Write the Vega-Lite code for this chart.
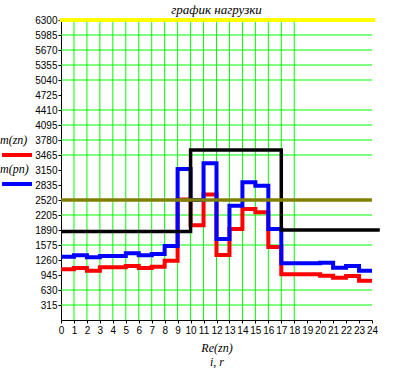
{
  "$schema": "https://vega.github.io/schema/vega-lite/v6.json",
  "autosize": {"type": "none"},
  "width": 311,
  "height": 300,
  "padding": {"left": 61, "top": 20, "right": 34, "bottom": 48},
  "background": "white",
  "title": {"text": "график нагрузки", "font": "Liberation Serif", "fontStyle": "italic", "fontSize": 13, "fontWeight": "normal", "anchor": "middle", "frame": "group", "baseline": "top", "offset": 0, "dy": 2, "color": "black"},
  "config": {
    "view": {"stroke": null},
    "axis": {"grid": false, "tickSize": 3, "labelFont": "Liberation Sans", "labelFontSize": 10, "labelColor": "black", "labelOverlap": false, "labelFlush": false, "domainColor": "black", "tickColor": "black", "domainWidth": 1, "tickWidth": 1, "format": "d"},
    "axisX": {"labelAngle": 0, "labelPadding": 2, "titleFont": "Liberation Serif", "titleFontStyle": "italic", "titleFontSize": 12, "titleFontWeight": "normal", "titleColor": "black", "titlePadding": 7, "titleLineHeight": 14},
    "axisY": {"labelPadding": 1}
  },
  "datasets": {
    "vgrid": [{"x": 1}, {"x": 2}, {"x": 3}, {"x": 4}, {"x": 5}, {"x": 6}, {"x": 7}, {"x": 8}, {"x": 9}, {"x": 10}, {"x": 11}, {"x": 12}, {"x": 13}, {"x": 14}, {"x": 15}, {"x": 16}, {"x": 17}, {"x": 18}],
    "hgrid": [{"y": 315}, {"y": 630}, {"y": 1575}, {"y": 2205}, {"y": 3465}, {"y": 3780}, {"y": 4095}, {"y": 4410}, {"y": 5040}, {"y": 5355}, {"y": 5670}, {"y": 5985}],
    "series": [
      {"s": "m(zn)", "x": 0, "y": 1064}, {"s": "m(zn)", "x": 1, "y": 1092}, {"s": "m(zn)", "x": 2, "y": 1036}, {"s": "m(zn)", "x": 3, "y": 1106}, {"s": "m(zn)", "x": 4, "y": 1106}, {"s": "m(zn)", "x": 5, "y": 1134}, {"s": "m(zn)", "x": 6, "y": 1092}, {"s": "m(zn)", "x": 7, "y": 1120}, {"s": "m(zn)", "x": 8, "y": 1246}, {"s": "m(zn)", "x": 9, "y": 2530}, {"s": "m(zn)", "x": 10, "y": 1990}, {"s": "m(zn)", "x": 11, "y": 2636}, {"s": "m(zn)", "x": 12, "y": 1365}, {"s": "m(zn)", "x": 13, "y": 1911}, {"s": "m(zn)", "x": 14, "y": 2331}, {"s": "m(zn)", "x": 15, "y": 2261}, {"s": "m(zn)", "x": 16, "y": 1535}, {"s": "m(zn)", "x": 17, "y": 959}, {"s": "m(zn)", "x": 18, "y": 959}, {"s": "m(zn)", "x": 19, "y": 959}, {"s": "m(zn)", "x": 20, "y": 931}, {"s": "m(zn)", "x": 21, "y": 889}, {"s": "m(zn)", "x": 22, "y": 924}, {"s": "m(zn)", "x": 23, "y": 826}, {"s": "m(zn)", "x": 24, "y": 826},
      {"s": "m(pn)", "x": 0, "y": 1330}, {"s": "m(pn)", "x": 1, "y": 1358}, {"s": "m(pn)", "x": 2, "y": 1316}, {"s": "m(pn)", "x": 3, "y": 1344}, {"s": "m(pn)", "x": 4, "y": 1344}, {"s": "m(pn)", "x": 5, "y": 1400}, {"s": "m(pn)", "x": 6, "y": 1358}, {"s": "m(pn)", "x": 7, "y": 1386}, {"s": "m(pn)", "x": 8, "y": 1554}, {"s": "m(pn)", "x": 9, "y": 3171}, {"s": "m(pn)", "x": 10, "y": 2520}, {"s": "m(pn)", "x": 11, "y": 3290}, {"s": "m(pn)", "x": 12, "y": 1701}, {"s": "m(pn)", "x": 13, "y": 2401}, {"s": "m(pn)", "x": 14, "y": 2895}, {"s": "m(pn)", "x": 15, "y": 2821}, {"s": "m(pn)", "x": 16, "y": 1911}, {"s": "m(pn)", "x": 17, "y": 1190}, {"s": "m(pn)", "x": 18, "y": 1190}, {"s": "m(pn)", "x": 19, "y": 1190}, {"s": "m(pn)", "x": 20, "y": 1200}, {"s": "m(pn)", "x": 21, "y": 1099}, {"s": "m(pn)", "x": 22, "y": 1134}, {"s": "m(pn)", "x": 23, "y": 1036}, {"s": "m(pn)", "x": 24, "y": 1036}
    ],
    "black": [{"x": 0, "y": 1860}, {"x": 10, "y": 3570}, {"x": 17, "y": 1890}, {"x": 24.6, "y": 1890}],
    "olive": [{"x": 0, "x2": 24, "y": 2520}],
    "yellow": [{"x": -0.1, "x2": 24.25, "y": 6300}]
  },
  "layer": [
    {
      "data": {"name": "vgrid"},
      "mark": {"type": "rule", "color": "#00ff00", "strokeWidth": 1},
      "encoding": {"x": {"field": "x", "type": "quantitative", "scale": {"domain": [0, 24]}, "axis": {"values": [0,1,2,3,4,5,6,7,8,9,10,11,12,13,14,15,16,17,18,19,20,21,22,23,24], "title": ["Re(zn)", "i, r"]}}}
    },
    {
      "data": {"name": "hgrid"},
      "mark": {"type": "rule", "color": "#00ff00", "strokeWidth": 1},
      "encoding": {"y": {"field": "y", "type": "quantitative", "scale": {"domain": [0, 6300]}, "axis": {"values": [315,630,945,1260,1575,1890,2205,2520,2835,3150,3465,3780,4095,4410,4725,5040,5355,5670,5985,6300], "title": null}}}
    },
    {
      "data": {"name": "series"},
      "transform": [{"filter": "datum.s === 'm(zn)'"}],
      "mark": {"type": "line", "interpolate": "step-after", "strokeWidth": 4},
      "encoding": {
        "x": {"field": "x", "type": "quantitative", "scale": {"domain": [0, 24]}, "axis": {"values": [0,1,2,3,4,5,6,7,8,9,10,11,12,13,14,15,16,17,18,19,20,21,22,23,24], "title": ["Re(zn)", "i, r"]}},
        "y": {"field": "y", "type": "quantitative", "scale": {"domain": [0, 6300]}, "axis": {"values": [315,630,945,1260,1575,1890,2205,2520,2835,3150,3465,3780,4095,4410,4725,5040,5355,5670,5985,6300], "title": null}},
        "color": {"field": "s", "type": "nominal", "scale": {"domain": ["m(zn)", "m(pn)"], "range": ["#ff0000", "#0000ff"]},
          "legend": {"orient": "none", "legendX": -61, "legendY": 118, "title": null, "symbolType": "stroke", "symbolSize": 900, "symbolStrokeWidth": 4, "labelOffset": -34, "labelFont": "Liberation Serif", "labelFontStyle": "italic", "labelFontSize": 12, "labelColor": "black", "padding": 0, "rowPadding": 0, "encode": {"labels": {"update": {"dy": {"value": -15}}}}}}
      }
    },
    {
      "data": {"name": "series"},
      "transform": [{"filter": "datum.s === 'm(pn)'"}],
      "mark": {"type": "line", "interpolate": "step-after", "strokeWidth": 4},
      "encoding": {
        "x": {"field": "x", "type": "quantitative", "scale": {"domain": [0, 24]}, "axis": {"values": [0,1,2,3,4,5,6,7,8,9,10,11,12,13,14,15,16,17,18,19,20,21,22,23,24], "title": ["Re(zn)", "i, r"]}},
        "y": {"field": "y", "type": "quantitative", "scale": {"domain": [0, 6300]}, "axis": {"values": [315,630,945,1260,1575,1890,2205,2520,2835,3150,3465,3780,4095,4410,4725,5040,5355,5670,5985,6300], "title": null}},
        "color": {"field": "s", "type": "nominal"}
      }
    },
    {
      "data": {"name": "black"},
      "mark": {"type": "line", "interpolate": "step-after", "strokeWidth": 3.5, "color": "black"},
      "encoding": {
        "x": {"field": "x", "type": "quantitative", "scale": {"domain": [0, 24]}, "axis": {"values": [0,1,2,3,4,5,6,7,8,9,10,11,12,13,14,15,16,17,18,19,20,21,22,23,24], "title": ["Re(zn)", "i, r"]}},
        "y": {"field": "y", "type": "quantitative", "scale": {"domain": [0, 6300]}, "axis": {"values": [315,630,945,1260,1575,1890,2205,2520,2835,3150,3465,3780,4095,4410,4725,5040,5355,5670,5985,6300], "title": null}}
      }
    },
    {
      "data": {"name": "olive"},
      "mark": {"type": "rule", "strokeWidth": 3.3, "color": "#808000"},
      "encoding": {
        "x": {"field": "x", "type": "quantitative", "scale": {"domain": [0, 24]}, "axis": {"values": [0,1,2,3,4,5,6,7,8,9,10,11,12,13,14,15,16,17,18,19,20,21,22,23,24], "title": ["Re(zn)", "i, r"]}},
        "x2": {"field": "x2"},
        "y": {"field": "y", "type": "quantitative", "scale": {"domain": [0, 6300]}, "axis": {"values": [315,630,945,1260,1575,1890,2205,2520,2835,3150,3465,3780,4095,4410,4725,5040,5355,5670,5985,6300], "title": null}}
      }
    },
    {
      "data": {"name": "yellow"},
      "mark": {"type": "rule", "strokeWidth": 4, "color": "#ffff00"},
      "encoding": {
        "x": {"field": "x", "type": "quantitative", "scale": {"domain": [0, 24]}, "axis": {"values": [0,1,2,3,4,5,6,7,8,9,10,11,12,13,14,15,16,17,18,19,20,21,22,23,24], "title": ["Re(zn)", "i, r"]}},
        "x2": {"field": "x2"},
        "y": {"field": "y", "type": "quantitative", "scale": {"domain": [0, 6300]}, "axis": {"values": [315,630,945,1260,1575,1890,2205,2520,2835,3150,3465,3780,4095,4410,4725,5040,5355,5670,5985,6300], "title": null}}
      }
    }
  ]
}
